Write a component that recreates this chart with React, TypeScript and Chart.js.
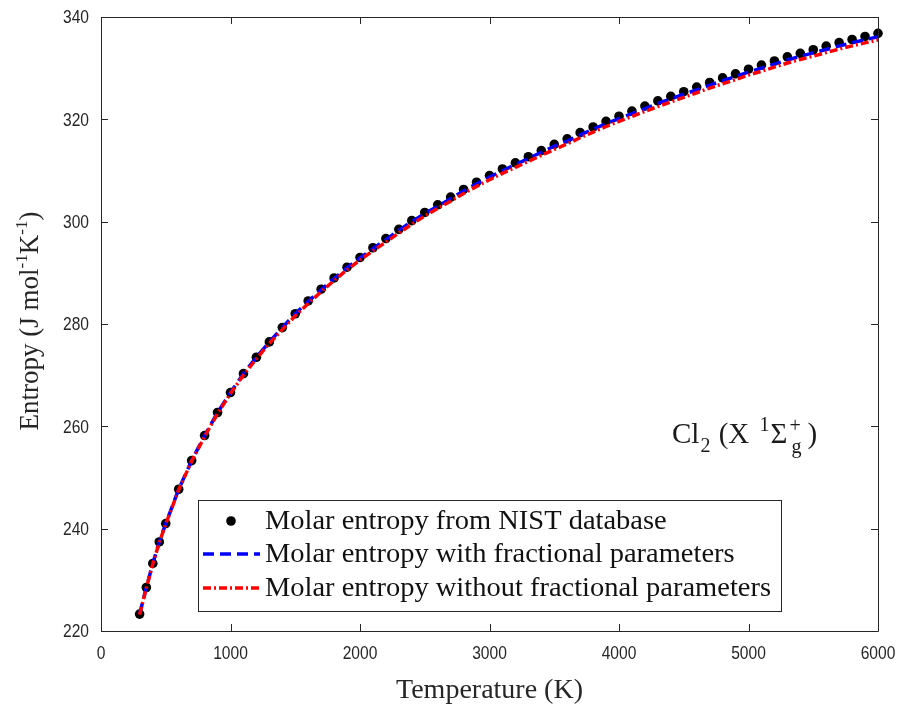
import React, { useEffect, useRef } from "react";
import { Chart, registerables } from "chart.js";

Chart.register(...registerables);

// ---------- data ----------
const temperatureK = [
  298.15, 350, 400, 450, 500, 600, 700, 800, 900, 1000,
  1100, 1200, 1300, 1400, 1500, 1600, 1700, 1800, 1900, 2000,
  2100, 2200, 2300, 2400, 2500, 2600, 2700, 2800, 2900, 3000,
  3100, 3200, 3300, 3400, 3500, 3600, 3700, 3800, 3900, 4000,
  4100, 4200, 4300, 4400, 4500, 4600, 4700, 4800, 4900, 5000,
  5100, 5200, 5300, 5400, 5500, 5600, 5700, 5800, 5900, 6000,
];

const nistEntropy = [
  223.3, 228.5, 233.2, 237.4, 241.0, 247.7, 253.3, 258.2, 262.7, 266.6,
  270.3, 273.5, 276.5, 279.3, 282.0, 284.5, 286.8, 289.0, 291.1, 293.0,
  294.9, 296.7, 298.5, 300.2, 301.8, 303.3, 304.8, 306.3, 307.7, 309.0,
  310.3, 311.5, 312.7, 313.9, 315.1, 316.2, 317.4, 318.5, 319.6, 320.6,
  321.6, 322.6, 323.6, 324.5, 325.4, 326.3, 327.2, 328.1, 328.9, 329.8,
  330.6, 331.4, 332.2, 332.9, 333.6, 334.3, 335.0, 335.6, 336.2, 336.8,
];

const withFractional = [
  223.3, 228.5, 233.2, 237.4, 241.0, 247.7, 253.3, 258.2, 262.7, 266.6,
  270.3, 273.5, 276.5, 279.3, 282.0, 284.4, 286.7, 288.9, 291.0, 292.9,
  294.7, 296.5, 298.3, 300.0, 301.6, 303.0, 304.5, 306.0, 307.4, 308.7,
  309.95, 311.15, 312.35, 313.55, 314.75, 315.75, 316.95, 318.05, 319.15, 320.15,
  321.1, 322.1, 323.1, 324.0, 324.9, 325.75, 326.65, 327.55, 328.35, 329.25,
  330.0, 330.8, 331.6, 332.3, 333.0, 333.65, 334.35, 334.95, 335.55, 336.15,
];

const withoutFractional = [
  223.2, 228.4, 233.1, 237.3, 240.9, 247.6, 253.2, 258.0, 262.5, 266.4,
  270.0, 273.2, 276.2, 278.9, 281.6, 284.0, 286.3, 288.5, 290.6, 292.5,
  294.3, 296.0, 297.8, 299.5, 301.1, 302.6, 304.0, 305.5, 306.9, 308.2,
  309.45, 310.6, 311.8, 312.95, 314.1, 315.2, 316.4, 317.5, 318.6, 319.6,
  320.55, 321.55, 322.5, 323.4, 324.3, 325.2, 326.1, 326.95, 327.75, 328.65,
  329.4, 330.2, 331.0, 331.7, 332.35, 333.05, 333.75, 334.35, 334.95, 335.5,
];

const xTicks = [0, 1000, 2000, 3000, 4000, 5000, 6000];
const yTicks = [220, 240, 260, 280, 300, 320, 340];

const legendLabels = [
  "Molar entropy from NIST database",
  "Molar entropy with fractional parameters",
  "Molar entropy without fractional parameters",
];

const xTitle = "Temperature (K)";

// ---------- styling ----------
const AXIS = "#262626";
const SERIF = '"Liberation Serif", "Times New Roman", Times, serif';
const SANS = '"Liberation Sans", Arial, Helvetica, sans-serif';

type Seg = { t: string; size: number; dy?: number; dx?: number; adv?: boolean };

function drawSegs(ctx: CanvasRenderingContext2D, segs: Seg[], x: number, y: number) {
  let cx = x;
  let lastW = 0;
  for (const s of segs) {
    ctx.font = `${s.size}px ${SERIF}`;
    const w = ctx.measureText(s.t).width;
    const px = s.adv === false ? cx - lastW : cx;
    ctx.fillText(s.t, px + (s.dx || 0), y + (s.dy || 0));
    if (s.adv === false) {
      cx = Math.max(cx, px + w + (s.dx || 0));
    } else {
      cx += w + (s.dx || 0);
      lastW = w;
    }
  }
  return cx - x;
}

function segsWidth(ctx: CanvasRenderingContext2D, segs: Seg[]) {
  let w = 0;
  for (const s of segs) {
    ctx.font = `${s.size}px ${SERIF}`;
    w += ctx.measureText(s.t).width + (s.dx || 0);
  }
  return w;
}

function narrowText(
  ctx: CanvasRenderingContext2D,
  text: string,
  x: number,
  y: number,
  align: "left" | "center" | "right",
  sx: number
) {
  ctx.save();
  ctx.translate(x, y);
  ctx.scale(sx, 1);
  ctx.textAlign = align;
  ctx.fillText(text, 0, 0);
  ctx.restore();
}

const decorPlugin = {
  id: "decor",
  afterDatasetsDraw(chart: any) {
    const { ctx, chartArea } = chart;
    const xs = chart.scales.x;
    const ys = chart.scales.y;
    const { left, right, top, bottom } = chartArea;
    ctx.save();

    // frame + inward ticks
    ctx.strokeStyle = AXIS;
    ctx.lineWidth = 1;
    ctx.beginPath();
    ctx.rect(Math.round(left) + 0.5, Math.round(top) + 0.5, Math.round(right - left), Math.round(bottom - top));
    ctx.stroke();
    const tl = 7;
    ctx.beginPath();
    for (const v of xTicks) {
      const px = Math.round(xs.getPixelForValue(v)) + 0.5;
      ctx.moveTo(px, bottom);
      ctx.lineTo(px, bottom - tl);
      ctx.moveTo(px, top);
      ctx.lineTo(px, top + tl);
    }
    for (const v of yTicks) {
      const py = Math.round(ys.getPixelForValue(v)) + 0.5;
      ctx.moveTo(left, py);
      ctx.lineTo(left + tl, py);
      ctx.moveTo(right, py);
      ctx.lineTo(right - tl, py);
    }
    ctx.stroke();

    // tick labels (narrow sans)
    ctx.fillStyle = AXIS;
    ctx.font = `19px ${SANS}`;
    ctx.textBaseline = "middle";
    for (const v of xTicks) {
      narrowText(ctx, String(v), xs.getPixelForValue(v), bottom + 23, "center", 0.82);
    }
    for (const v of yTicks) {
      narrowText(ctx, String(v), left - 12, ys.getPixelForValue(v) + 1, "right", 0.82);
    }

    // legend
    const lx0 = 198, ly0 = 500, lx1 = 781, ly1 = 611;
    ctx.fillStyle = "#ffffff";
    ctx.fillRect(lx0, ly0, lx1 - lx0, ly1 - ly0);
    ctx.strokeStyle = AXIS;
    ctx.lineWidth = 1;
    ctx.strokeRect(lx0 + 0.5, ly0 + 0.5, lx1 - lx0, ly1 - ly0);
    const rows = [521, 554, 588];
    const ds = chart.data.datasets;
    ctx.fillStyle = ds[0].pointBackgroundColor;
    ctx.beginPath();
    ctx.arc(231, rows[0], ds[0].pointRadius, 0, Math.PI * 2);
    ctx.fill();
    for (let i = 1; i < 3; i++) {
      ctx.strokeStyle = ds[i].borderColor;
      ctx.lineWidth = ds[i].borderWidth;
      ctx.setLineDash(ds[i].borderDash);
      ctx.beginPath();
      ctx.moveTo(203, rows[i]);
      ctx.lineTo(260, rows[i]);
      ctx.stroke();
    }
    ctx.setLineDash([]);
    ctx.fillStyle = "#111111";
    ctx.font = `27px ${SERIF}`;
    ctx.textBaseline = "middle";
    ctx.textAlign = "left";
    const w3 = ctx.measureText(legendLabels[2]).width;
    const sx = 506 / w3;
    for (let i = 0; i < 3; i++) {
      narrowText(ctx, legendLabels[i], 265, rows[i] + 1, "left", sx);
    }

    // annotation  Cl2 (X 1Σg+)
    ctx.textBaseline = "alphabetic";
    ctx.textAlign = "left";
    ctx.fillStyle = "#1a1a1a";
    drawSegs(
      ctx,
      [
        { t: "Cl", size: 29 },
        { t: "2", size: 20, dy: 9, dx: 1 },
        { t: " (X ", size: 29, dx: 1 },
        { t: "1", size: 20, dy: -12, dx: 3 },
        { t: "Σ", size: 29, dx: 1 },
        { t: "+", size: 20, dy: -11, dx: 2 },
        { t: "g", size: 20, dy: 10, dx: 2, adv: false },
        { t: ")", size: 29, dx: 6 },
      ],
      672,
      443
    );

    // x title
    ctx.font = `28px ${SERIF}`;
    ctx.textAlign = "center";
    ctx.fillStyle = "#262626";
    ctx.fillText(xTitle, (left + right) / 2, 698);

    // y title (rotated, with superscripts)
    const ySegs: Seg[] = [
      { t: "Entropy (J mol", size: 27 },
      { t: "-1", size: 17, dy: -11 },
      { t: "K", size: 27 },
      { t: "-1", size: 17, dy: -11 },
      { t: ")", size: 27 },
    ];
    ctx.save();
    ctx.translate(38, 321);
    ctx.rotate(-Math.PI / 2);
    ctx.textAlign = "left";
    const yw = segsWidth(ctx, ySegs);
    drawSegs(ctx, ySegs, -yw / 2, 0);
    ctx.restore();

    ctx.restore();
  },
};

export default function App() {
  const ref = useRef<HTMLCanvasElement | null>(null);

  useEffect(() => {
    if (!ref.current) return;
    const pts = (ys: number[]) => temperatureK.map((t, i) => ({ x: t, y: ys[i] }));
    const chart = new Chart(ref.current, {
      type: "line",
      data: {
        datasets: [
          {
            label: legendLabels[0],
            data: pts(nistEntropy),
            showLine: false,
            pointRadius: 4.8,
            pointBackgroundColor: "#000000",
            pointBorderWidth: 0,
            borderColor: "#000000",
            order: 3,
            clip: false,
          } as any,
          {
            label: legendLabels[1],
            data: pts(withFractional),
            borderColor: "#0000ff",
            borderWidth: 3.5,
            borderDash: [11, 6],
            pointRadius: 0,
            tension: 0,
            order: 2,
            clip: false,
          },
          {
            label: legendLabels[2],
            data: pts(withoutFractional),
            borderColor: "#ff0000",
            borderWidth: 3.5,
            borderDash: [8, 3, 2, 3],
            pointRadius: 0,
            tension: 0,
            order: 1,
            clip: false,
          },
        ],
      },
      options: {
        animation: false,
        responsive: false,
        events: [],
        layout: { padding: { left: 0, top: 17, right: 29, bottom: 0 } },
        plugins: {
          legend: { display: false },
          tooltip: { enabled: false },
        },
        scales: {
          x: {
            type: "linear",
            min: 0,
            max: 6000,
            afterFit: (s: any) => {
              s.height = 75;
            },
            grid: { display: false, drawTicks: false },
            border: { display: false },
            ticks: { display: false },
          },
          y: {
            type: "linear",
            min: 220,
            max: 340,
            afterFit: (s: any) => {
              s.width = 101;
            },
            grid: { display: false, drawTicks: false },
            border: { display: false },
            ticks: { display: false },
          },
        },
      },
      plugins: [decorPlugin],
    });
    return () => chart.destroy();
  }, []);

  return (
    <div style={{ position: "fixed", left: 0, top: 0, width: 907, height: 706, background: "#fff" }}>
      <canvas ref={ref} width={907} height={706} style={{ display: "block", width: 907, height: 706 }} />
    </div>
  );
}
